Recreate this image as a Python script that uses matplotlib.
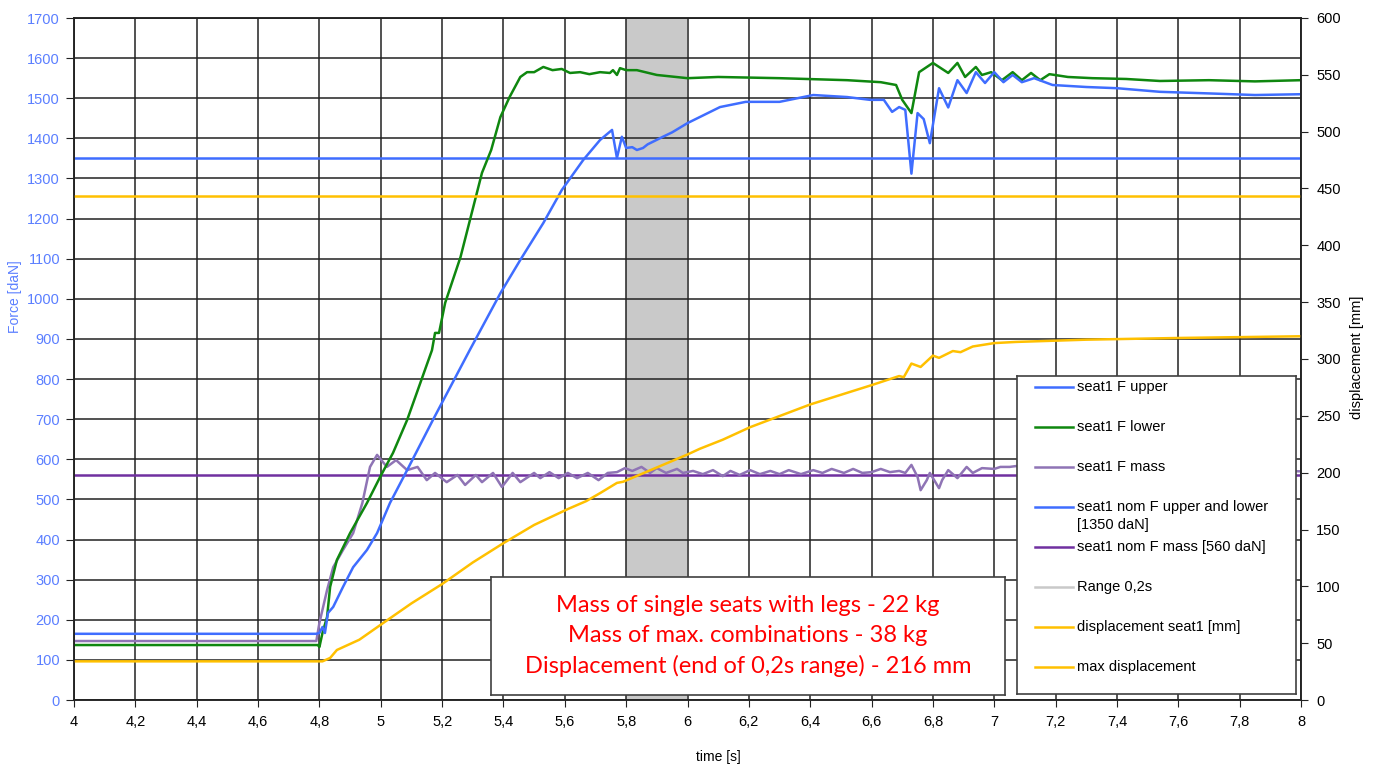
import matplotlib
matplotlib.use("Agg")
import matplotlib.pyplot as plt
import numpy as np

plt.rcParams["font.family"] = ["Liberation Sans", "DejaVu Sans"]

# (time [s], force [daN])
upper = np.array([
    (4.0, 165), (4.79, 165), (4.80, 167), (4.81, 182), (4.818, 167), (4.828, 217),
    (4.845, 232), (4.877, 282), (4.91, 331), (4.955, 374), (4.988, 416), (5.03, 491),
    (5.086, 573), (5.17, 698), (5.29, 872), (5.39, 1014), (5.455, 1097), (5.53, 1189),
    (5.59, 1271), (5.66, 1346), (5.715, 1396), (5.754, 1421), (5.77, 1351), (5.786, 1404),
    (5.80, 1376), (5.82, 1378), (5.835, 1371), (5.855, 1376), (5.87, 1385), (5.92, 1404),
    (5.95, 1415), (6.0, 1438), (6.106, 1478), (6.19, 1491), (6.30, 1491), (6.41, 1508),
    (6.52, 1503), (6.595, 1496), (6.64, 1496), (6.667, 1466), (6.69, 1478), (6.71, 1471),
    (6.73, 1312), (6.75, 1463), (6.77, 1448), (6.79, 1388), (6.82, 1525), (6.85, 1477),
    (6.88, 1545), (6.91, 1513), (6.94, 1565), (6.97, 1538), (7.0, 1565), (7.03, 1540),
    (7.06, 1558), (7.09, 1540), (7.13, 1550), (7.19, 1533), (7.30, 1528), (7.40, 1525),
    (7.54, 1516), (7.7, 1512), (7.85, 1508), (8.0, 1510),
])
lower = np.array([
    (4.0, 137), (4.795, 137), (4.80, 132), (4.81, 167), (4.825, 207), (4.835, 282),
    (4.857, 349), (4.90, 416), (4.955, 491), (4.998, 556), (5.04, 616), (5.086, 698),
    (5.167, 872), (5.177, 915), (5.19, 915), (5.21, 990), (5.26, 1104), (5.31, 1254),
    (5.33, 1314), (5.36, 1371), (5.39, 1453), (5.42, 1503), (5.455, 1553), (5.477, 1565),
    (5.50, 1565), (5.53, 1578), (5.56, 1570), (5.59, 1573), (5.617, 1563), (5.65, 1565),
    (5.68, 1560), (5.715, 1565), (5.747, 1563), (5.757, 1570), (5.77, 1558), (5.78, 1575),
    (5.80, 1570), (5.835, 1570), (5.90, 1558), (6.0, 1550), (6.1, 1553), (6.3, 1550),
    (6.52, 1545), (6.63, 1540), (6.68, 1533), (6.70, 1496), (6.73, 1463), (6.755, 1565),
    (6.80, 1588), (6.82, 1578), (6.85, 1563), (6.88, 1588), (6.905, 1553), (6.94, 1578),
    (6.96, 1558), (6.99, 1565), (7.025, 1545), (7.06, 1565), (7.09, 1545), (7.12, 1563),
    (7.15, 1545), (7.18, 1560), (7.24, 1553), (7.32, 1550), (7.43, 1548), (7.54, 1543),
    (7.7, 1545), (7.85, 1542), (8.0, 1545),
])
mass = np.array([
    (4.0, 147), (4.79, 147), (4.80, 192), (4.825, 274), (4.845, 331), (4.877, 374),
    (4.91, 416), (4.94, 491), (4.965, 581), (4.988, 611), (5.02, 581), (5.05, 598),
    (5.086, 573), (5.12, 581), (5.15, 548), (5.177, 566), (5.215, 543), (5.25, 561),
    (5.275, 536), (5.31, 561), (5.33, 543), (5.366, 566), (5.395, 531), (5.43, 566),
    (5.455, 543), (5.50, 566), (5.52, 553), (5.55, 568), (5.58, 553), (5.61, 566),
    (5.64, 553), (5.675, 566), (5.71, 548), (5.74, 566), (5.77, 568), (5.796, 578),
    (5.82, 571), (5.85, 581), (5.878, 566), (5.90, 578), (5.93, 566), (5.966, 576),
    (5.985, 566), (6.018, 571), (6.05, 563), (6.083, 573), (6.115, 558), (6.14, 571),
    (6.17, 561), (6.204, 573), (6.236, 563), (6.27, 571), (6.30, 563), (6.33, 573),
    (6.37, 563), (6.41, 573), (6.44, 566), (6.47, 576), (6.51, 566), (6.54, 576),
    (6.57, 566), (6.60, 568), (6.63, 576), (6.66, 568), (6.69, 571), (6.71, 566),
    (6.73, 586), (6.75, 556), (6.76, 523), (6.78, 548), (6.79, 566), (6.82, 528),
    (6.83, 548), (6.85, 573), (6.88, 553), (6.91, 581), (6.93, 566), (6.96, 578),
    (7.0, 576), (7.02, 581), (7.05, 581), (7.07, 583), (7.3, 580), (7.6, 575), (8.0, 570),
])
# (time [s], displacement [mm])
displacement = np.array([
    (4.0, 34), (4.8, 34), (4.81, 34), (4.835, 37), (4.857, 44), (4.93, 53), (5.02, 70),
    (5.1, 85), (5.2, 102), (5.3, 121), (5.4, 138), (5.5, 154), (5.61, 168), (5.67, 175),
    (5.715, 182), (5.77, 191), (5.79, 192), (6.0, 216), (6.04, 221), (6.115, 229),
    (6.204, 240), (6.40, 260), (6.60, 277), (6.69, 285), (6.705, 284), (6.73, 296),
    (6.76, 293), (6.80, 303), (6.82, 301), (6.865, 307), (6.89, 306), (6.93, 311),
    (7.0, 314), (7.07, 315), (7.3, 317), (7.6, 318.5), (8.0, 320),
])

nominal_upper_lower = 1350
nominal_mass = 560
max_displacement = 443
range_start, range_end = 5.8, 6.0

legend_labels = [
    "seat1 F upper",
    "seat1 F lower",
    "seat1 F mass",
    "seat1 nom F upper and lower\n[1350 daN]",
    "seat1 nom F mass [560 daN]",
    "Range 0,2s",
    "displacement seat1 [mm]",
    "max displacement",
]
note_lines = [
    "Mass of single seats with legs - 22 kg",
    "Mass of max. combinations - 38 kg",
    "Displacement (end of 0,2s range) - 216 mm",
]

time_ticks = np.arange(4.0, 8.001, 0.2)
force_ticks = np.arange(0, 1701, 100)
disp_ticks = np.arange(0, 601, 50)

BLUE = "#3f6dff"
GREEN = "#0f870f"
MASS = "#8f74b5"
NOM_MASS = "#7030a0"
YELLOW = "#ffc000"
RANGE = "#c9c9c9"
FRAME = "#222222"
TICK_BLUE = "#5b7fff"

W, H = 1380, 767
fig = plt.figure(figsize=(W / 100, H / 100), dpi=100)
ax = fig.add_axes([74 / W, 67 / H, 1227 / W, 682 / H])
ax2 = ax.twinx()

ax.axvspan(range_start, range_end, color=RANGE, lw=0, zorder=0.2)
ax.set_axisbelow(True)
ax.grid(True, color=FRAME, lw=1.1)

ax.axhline(nominal_upper_lower, color=BLUE, lw=1.8)
ax.axhline(nominal_mass, color=NOM_MASS, lw=1.8)
ax.plot(mass[:, 0], mass[:, 1], color=MASS, lw=1.8)
ax.plot(lower[:, 0], lower[:, 1], color=GREEN, lw=1.8)
ax.plot(upper[:, 0], upper[:, 1], color=BLUE, lw=1.8)

ax2.axhline(max_displacement, color=YELLOW, lw=1.8)
ax2.plot(displacement[:, 0], displacement[:, 1], color=YELLOW, lw=1.8)

ax.set_xlim(4, 8)
ax.set_ylim(0, 1700)
ax2.set_ylim(0, 600)
ax.set_xticks(time_ticks)
ax.set_xticklabels([f"{t:.1f}".rstrip("0").rstrip(".").replace(".", ",") for t in time_ticks])
ax.set_yticks(force_ticks)
ax2.set_yticks(disp_ticks)

ax.tick_params(axis="x", direction="out", length=5, color=FRAME, labelsize=10.5, pad=6)
ax.tick_params(axis="y", direction="out", length=6, color=FRAME, labelsize=10.5,
               labelcolor=TICK_BLUE, pad=4)
ax2.tick_params(axis="y", direction="out", length=5, color=FRAME, labelsize=10.5, pad=6)
for spine in list(ax.spines.values()) + list(ax2.spines.values()):
    spine.set_color(FRAME)
    spine.set_linewidth(1.1)

fig.text(15 / W, 1 - 297 / H, "Force [daN]", color=TICK_BLUE, fontsize=10,
         rotation=90, ha="center", va="center")
fig.text(1357 / W, 1 - 357 / H, "displacement [mm]", fontsize=10.5,
         rotation=90, ha="center", va="center")
fig.text(718 / W, 1 - 757 / H, "time [s]", fontsize=10, ha="center", va="center")

# legend panel, laid out in pixel units
lax = fig.add_axes([1017 / W, 1 - 694 / H, 279 / W, 318 / H])
lax.set_xlim(0, 279)
lax.set_ylim(318, 0)
lax.set_xticks([])
lax.set_yticks([])
for spine in lax.spines.values():
    spine.set_color("#404040")
    spine.set_linewidth(1.2)
legend_colors = [BLUE, GREEN, MASS, BLUE, NOM_MASS, RANGE, YELLOW, YELLOW]
for i, (label, color) in enumerate(zip(legend_labels, legend_colors)):
    y = 10.7 + 40 * i
    lax.plot([18, 56], [y, y], color=color, lw=1.8)
    for j, part in enumerate(label.split("\n")):
        lax.text(60, y + 18.3 * j, part, fontsize=10.5, va="center", ha="left")

# note box
nax = fig.add_axes([491 / W, 1 - 695 / H, 514 / W, 118 / H])
nax.set_xticks([])
nax.set_yticks([])
for spine in nax.spines.values():
    spine.set_color("#404040")
    spine.set_linewidth(1.2)
nax.text(0.5, 0.5, "\n".join(note_lines), color="#ff0000", fontsize=17,
         family=["Lato", "DejaVu Sans"], ha="center", va="center",
         multialignment="center", linespacing=1.5, transform=nax.transAxes)

fig.savefig("out.png", dpi=100)
